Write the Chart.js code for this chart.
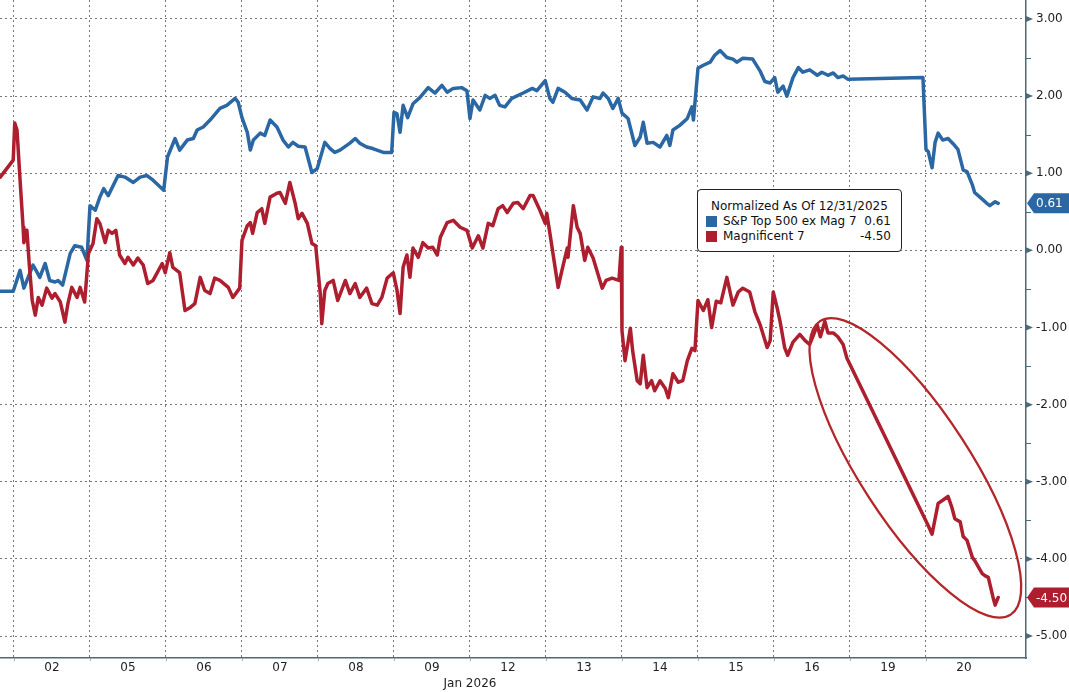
<!DOCTYPE html>
<html>
<head>
<meta charset="utf-8">
<script src="https://cdn.jsdelivr.net/npm/chart.js@4.4.1/dist/chart.umd.min.js"></script>
<style>
  html, body { margin: 0; padding: 0; background: #fff; }
  #wrap { position: relative; width: 1069px; height: 692px; overflow: hidden; }
  #legend {
    position: absolute; left: 697px; top: 189px; width: 205px; height: 63px;
    box-sizing: border-box; border: 1px solid #222; border-radius: 4px; background: #fff;
    font: 12px "DejaVu Sans", sans-serif; color: #111; padding: 9px 10px 0 8px;
  }
  #legend .ttl { padding-left: 5px; line-height: 15px; }
  #legend .row { display: flex; align-items: center; line-height: 15px; }
  #legend .sw { width: 11px; height: 11px; margin-right: 6px; flex: none; }
  #legend .nm { flex: 1; white-space: nowrap; }
  #legend .val { text-align: right; }
</style>
</head>
<body>
<div id="wrap">
  <canvas id="chart" width="1069" height="692"></canvas>
  <div id="legend"></div>
</div>
<script>
// axis labels
var dayLabels = ['02','05','06','07','08','09','12','13','14','15','16','19','20'];
var monthLabel = 'Jan 2026';
var monthLabelAt = 6;
var yTickValues = [-5,-4,-3,-2,-1,0,1,2,3];
var legendTitle = 'Normalized As Of 12/31/2025';
var seriesNames = ['S&P Top 500 ex Mag 7', 'Magnificent 7'];
var seriesColors = ['#2a67a3', '#ad1f2f'];

// time is in trading days from the open of Jan 02 (fractions = intraday)
var spxTime = [
  -0.18, -0.01,
  0.08, 0.13, 0.25, 0.29, 0.34, 0.41, 0.47, 0.54, 0.58, 0.64, 0.74, 0.80, 0.89, 0.96,
  1.00, 1.07, 1.13, 1.18, 1.24, 1.37, 1.46, 1.57, 1.66, 1.75, 1.83, 1.97,
  2.02, 2.12, 2.18, 2.28, 2.36, 2.41, 2.49, 2.58, 2.71, 2.80, 2.91, 2.95,
  3.00, 3.07, 3.11, 3.15, 3.24, 3.30, 3.37, 3.46, 3.54, 3.61, 3.67, 3.74, 3.83, 3.92, 3.99,
  4.09, 4.16, 4.22, 4.29, 4.42, 4.49, 4.55, 4.64, 4.72, 4.86, 4.97,
  5.00, 5.04, 5.08, 5.12, 5.18, 5.25, 5.34, 5.45, 5.54, 5.63, 5.70, 5.78, 5.89, 5.96,
  6.00, 6.04, 6.13, 6.20, 6.26, 6.33, 6.39, 6.46, 6.55, 6.70, 6.82, 6.88, 6.99,
  7.05, 7.09, 7.16, 7.25, 7.34, 7.45, 7.54, 7.62, 7.71, 7.75, 7.82, 7.88, 7.95,
  8.00, 8.08, 8.17, 8.24, 8.28, 8.33, 8.41, 8.50, 8.59, 8.63, 8.67, 8.76, 8.86, 8.92, 8.94,
  9.00, 9.07, 9.16, 9.22, 9.29, 9.38, 9.46, 9.51, 9.59, 9.72, 9.82, 9.88, 9.95,
  10.01, 10.05, 10.12, 10.17, 10.25, 10.32, 10.38, 10.47, 10.57, 10.63, 10.71, 10.78, 10.84, 10.91, 10.97,
  11.96,
  12.00, 12.03, 12.08, 12.12, 12.16, 12.22, 12.29, 12.36, 12.42, 12.49, 12.54, 12.61, 12.64, 12.71, 12.80, 12.84, 12.91, 12.95
];
var spxValue = [
  -0.53, -0.53,
  -0.26, -0.49, -0.19, -0.26, -0.35, -0.17, -0.39, -0.41, -0.39, -0.45, -0.04, 0.06, 0.04, -0.13,
  0.58, 0.52, 0.69, 0.80, 0.71, 0.97, 0.95, 0.88, 0.95, 0.97, 0.91, 0.78,
  1.21, 1.45, 1.30, 1.43, 1.45, 1.56, 1.60, 1.69, 1.84, 1.88, 1.97, 1.92,
  1.72, 1.53, 1.30, 1.43, 1.52, 1.49, 1.69, 1.60, 1.43, 1.34, 1.40, 1.35, 1.34, 1.01, 1.06,
  1.40, 1.32, 1.27, 1.30, 1.39, 1.45, 1.39, 1.34, 1.32, 1.27, 1.27,
  1.79, 1.77, 1.53, 1.88, 1.72, 1.90, 1.98, 2.11, 2.04, 2.14, 2.05, 2.10, 2.11, 2.07,
  1.71, 1.95, 1.82, 2.01, 1.97, 2.01, 1.88, 1.86, 1.97, 2.04, 2.10, 2.07, 2.20,
  1.97, 1.92, 2.10, 2.05, 1.97, 1.95, 1.82, 1.99, 1.97, 2.04, 1.97, 1.84, 1.97,
  1.78, 1.71, 1.36, 1.47, 1.66, 1.39, 1.40, 1.34, 1.49, 1.36, 1.56, 1.62, 1.71, 1.86, 1.69,
  2.36, 2.40, 2.44, 2.53, 2.59, 2.50, 2.48, 2.44, 2.49, 2.48, 2.32, 2.19, 2.17,
  2.24, 2.05, 2.13, 2.00, 2.24, 2.37, 2.31, 2.34, 2.27, 2.31, 2.27, 2.30, 2.24, 2.26, 2.22,
  2.24,
  1.31, 1.28, 1.07, 1.40, 1.52, 1.43, 1.45, 1.38, 1.31, 1.04, 1.02, 0.85, 0.75, 0.69, 0.61, 0.58, 0.63, 0.61
];

var magTime = [
  -0.18, -0.01,
  0.01, 0.04, 0.08, 0.12, 0.13, 0.17, 0.20, 0.24, 0.28, 0.32, 0.37, 0.43, 0.50, 0.54, 0.61, 0.67, 0.71, 0.76, 0.83, 0.87, 0.93,
  0.98, 1.04, 1.09, 1.13, 1.20, 1.24, 1.29, 1.34, 1.39, 1.46, 1.50, 1.57, 1.63, 1.70, 1.76, 1.83, 1.95, 1.99,
  2.05, 2.09, 2.18, 2.25, 2.32, 2.38, 2.45, 2.51, 2.58, 2.64, 2.71, 2.82, 2.88, 2.97,
  3.00, 3.07, 3.11, 3.14, 3.20, 3.26, 3.30, 3.37, 3.46, 3.50, 3.57, 3.63, 3.70, 3.74, 3.79, 3.86, 3.92, 3.97,
  4.03, 4.05, 4.09, 4.13, 4.20, 4.26, 4.36, 4.42, 4.49, 4.55, 4.64, 4.71, 4.78, 4.84, 4.91, 4.99,
  5.04, 5.08, 5.12, 5.17, 5.21, 5.25, 5.32, 5.38, 5.45, 5.51, 5.57, 5.61, 5.70, 5.78, 5.87, 5.96,
  6.03, 6.11, 6.17, 6.24, 6.30, 6.37, 6.43, 6.49, 6.57, 6.63, 6.70, 6.79, 6.83, 6.92, 6.99,
  7.01, 7.05, 7.16, 7.21, 7.28, 7.29, 7.36, 7.41, 7.45, 7.51, 7.55, 7.62, 7.74, 7.79, 7.87, 7.96, 7.99,
  8.00, 8.04, 8.11, 8.14, 8.20, 8.24, 8.28, 8.33, 8.39, 8.43, 8.50, 8.57, 8.61, 8.67, 8.74, 8.80, 8.86, 8.92, 8.96,
  9.00, 9.07, 9.13, 9.18, 9.24, 9.30, 9.38, 9.46, 9.53, 9.59, 9.68, 9.75, 9.82, 9.91, 9.95,
  9.99, 10.04, 10.08, 10.14, 10.18, 10.25, 10.34, 10.41, 10.47, 10.51, 10.57, 10.61, 10.67, 10.71, 10.78, 10.84, 10.91, 10.96,
  12.03, 12.08, 12.12, 12.16, 12.22, 12.29, 12.34, 12.38, 12.45, 12.49, 12.54, 12.61, 12.64, 12.74, 12.78, 12.82, 12.88, 12.91, 12.95
];
var magValue = [
  0.95, 1.17,
  1.65, 1.56, 0.91, 0.30, 0.10, 0.26, -0.17, -0.65, -0.84, -0.61, -0.71, -0.49, -0.62, -0.56, -0.67, -0.93, -0.69, -0.48, -0.61, -0.48, -0.67,
  -0.04, 0.09, 0.41, 0.35, 0.10, 0.26, 0.22, 0.26, -0.06, -0.17, -0.09, -0.19, -0.10, -0.19, -0.43, -0.39, -0.17, -0.29,
  -0.03, -0.22, -0.29, -0.78, -0.74, -0.69, -0.35, -0.52, -0.56, -0.36, -0.39, -0.48, -0.61, -0.49,
  0.13, 0.32, 0.36, 0.22, 0.49, 0.54, 0.35, 0.69, 0.74, 0.75, 0.61, 0.88, 0.61, 0.41, 0.48, 0.35, 0.09, 0.06,
  -0.56, -0.95, -0.52, -0.43, -0.39, -0.65, -0.39, -0.56, -0.43, -0.61, -0.49, -0.69, -0.71, -0.61, -0.36, -0.29,
  -0.52, -0.82, -0.22, -0.06, -0.35, 0.03, -0.09, 0.10, 0.03, 0.04, -0.06, 0.17, 0.36, 0.39, 0.30, 0.26,
  0.03, 0.19, 0.03, 0.35, 0.32, 0.54, 0.58, 0.49, 0.61, 0.62, 0.54, 0.71, 0.71, 0.52, 0.35,
  0.48, 0.23, -0.48, -0.26, 0.03, -0.09, 0.58, 0.30, 0.22, -0.13, 0.04, -0.10, -0.49, -0.39, -0.36, -0.39, 0.04,
  -1.04, -1.43, -1.01, -1.30, -1.69, -1.73, -1.36, -1.78, -1.69, -1.82, -1.69, -1.79, -1.91, -1.60, -1.71, -1.69, -1.43, -1.27, -1.30,
  -0.65, -0.78, -0.64, -1.00, -0.66, -0.68, -0.35, -0.71, -0.54, -0.49, -0.54, -0.80, -0.97, -1.26, -1.17,
  -0.54, -0.74, -0.92, -1.26, -1.36, -1.19, -1.09, -1.17, -1.22, -1.12, -0.97, -1.12, -0.92, -1.07, -1.07, -1.12, -1.22, -1.40,
  -3.57, -3.68, -3.48, -3.28, -3.24, -3.19, -3.33, -3.48, -3.52, -3.71, -3.76, -3.98, -4.02, -4.19, -4.22, -4.24, -4.49, -4.60, -4.50
];

// the hand-drawn ring around the last leg, centred in data units
var ringAt = { x: 11.86, y: -2.82 };

var axisColor = '#4b6b7c';
var gridColor = '#777';
var ringColor = '#b3262a';
var fontFamily = '"DejaVu Sans", sans-serif';

function pts(t, v){
  return t.map(function(x, i){ return { x: x, y: v[i] }; });
}
function last(a){ return a[a.length - 1]; }

// legend box
(function(){
  var vals = [last(spxValue), last(magValue)];
  var html = '<div class="ttl">' + legendTitle + '</div>';
  for (var i = 0; i < seriesNames.length; i++) {
    html += '<div class="row"><span class="sw" style="background:' + seriesColors[i] + '"></span>' +
      '<span class="nm">' + seriesNames[i].replace('&', '&amp;') + '</span>' +
      '<span class="val">' + vals[i].toFixed(2) + '</span></div>';
  }
  document.getElementById('legend').innerHTML = html;
})();

function drawTag(c, ax, right, py, color, text){
  c.fillStyle = color;
  c.beginPath();
  c.moveTo(ax + 1, py);
  c.lineTo(ax + 8, py - 10);
  c.lineTo(right, py - 10);
  c.lineTo(right, py + 10);
  c.lineTo(ax + 8, py + 10);
  c.closePath();
  c.fill();
  c.fillStyle = '#fff';
  c.textAlign = 'left';
  c.textBaseline = 'middle';
  c.font = '12px ' + fontFamily;
  c.fillText(text, ax + 10, py + 1);
}

var decor = {
  id: 'decor',
  afterDatasetsDraw: function(chart){
    var c = chart.ctx, xs = chart.scales.x, ys = chart.scales.y;
    c.save();
    c.strokeStyle = ringColor;
    c.lineWidth = 2.3;
    c.beginPath();
    c.ellipse(xs.getPixelForValue(ringAt.x), ys.getPixelForValue(ringAt.y), 175, 55, 57 * Math.PI / 180, 0, 2 * Math.PI);
    c.stroke();
    c.restore();
  },
  afterDraw: function(chart){
    var c = chart.ctx, xs = chart.scales.x, ys = chart.scales.y;
    var ax = ys.left;
    c.save();
    c.fillStyle = axisColor;
    c.strokeStyle = axisColor;
    c.lineWidth = 1;
    yTickValues.forEach(function(v, i){
      var py = ys.getPixelForValue(v);
      c.beginPath();
      c.moveTo(ax, py - 3); c.lineTo(ax + 7, py); c.lineTo(ax, py + 3);
      c.closePath(); c.fill();
      if (i < yTickValues.length - 1) {
        var my = Math.round(ys.getPixelForValue(v + 0.5)) + 0.5;
        c.beginPath(); c.moveTo(ax, my); c.lineTo(ax + 5, my); c.stroke();
      }
    });
    c.strokeStyle = '#aaa';
    for (var d = 0; d < dayLabels.length; d++) {
      var px = Math.round(xs.getPixelForValue(d)) + 0.5;
      c.beginPath(); c.moveTo(px, xs.top); c.lineTo(px, xs.top + 3); c.stroke();
    }
    drawTag(c, ax, chart.width, ys.getPixelForValue(last(spxValue)), seriesColors[0], last(spxValue).toFixed(2));
    drawTag(c, ax, chart.width, ys.getPixelForValue(last(magValue)), seriesColors[1], last(magValue).toFixed(2));
    c.fillStyle = '#222';
    c.font = '12px ' + fontFamily;
    c.textAlign = 'center';
    c.textBaseline = 'middle';
    c.fillText(monthLabel, xs.getPixelForValue(monthLabelAt), xs.bottom - 8);
    c.restore();
  }
};

function gridOnInteger(ctx){
  return ctx.tick && Number.isInteger(ctx.tick.value) ? gridColor : 'rgba(0,0,0,0)';
}

var chart = new Chart(document.getElementById('chart'), {
  type: 'line',
  data: {
    datasets: [{
      label: seriesNames[0],
      data: pts(spxTime, spxValue),
      borderColor: seriesColors[0],
      order: 1
    }, {
      label: seriesNames[1],
      data: pts(magTime, magValue),
      borderColor: seriesColors[1],
      order: 0
    }]
  },
  options: {
    responsive: false,
    animation: false,
    layout: { padding: 0 },
    elements: {
      point: { radius: 0 },
      line: { borderWidth: 3.5, tension: 0, borderJoinStyle: 'round', borderCapStyle: 'round' }
    },
    plugins: { legend: { display: false }, tooltip: { enabled: false } },
    scales: {
      x: {
        type: 'linear',
        min: -0.184,
        max: 13.316,
        afterBuildTicks: function(s){
          var t = [];
          for (var i = 0; i < dayLabels.length; i++) { t.push({ value: i }); t.push({ value: i + 0.5 }); }
          s.ticks = t;
        },
        ticks: {
          autoSkip: false, maxRotation: 0, padding: 3, color: '#222',
          font: { family: fontFamily, size: 12 },
          callback: function(v){ return Number.isInteger(v) ? '' : dayLabels[Math.floor(v)]; }
        },
        grid: { drawTicks: false, color: gridOnInteger, lineWidth: 1 },
        border: { color: axisColor, width: 1.5, dash: [2, 3] },
        afterFit: function(s){ s.height = 34; s.paddingLeft = 0; s.paddingRight = 0; }
      },
      y: {
        position: 'right',
        min: -5.285,
        max: 3.246,
        afterBuildTicks: function(s){
          s.ticks = yTickValues.map(function(v){ return { value: v }; });
        },
        ticks: {
          autoSkip: false, padding: 10, color: '#222',
          font: { family: fontFamily, size: 12 },
          callback: function(v){ return v.toFixed(2); }
        },
        grid: { drawTicks: false, color: gridOnInteger, lineWidth: 1 },
        border: { color: axisColor, width: 1.5, dash: [2, 3] },
        afterFit: function(s){ s.width = 43; s.paddingTop = 0; s.paddingBottom = 0; }
      }
    }
  },
  plugins: [decor]
});
</script>
</body>
</html>
